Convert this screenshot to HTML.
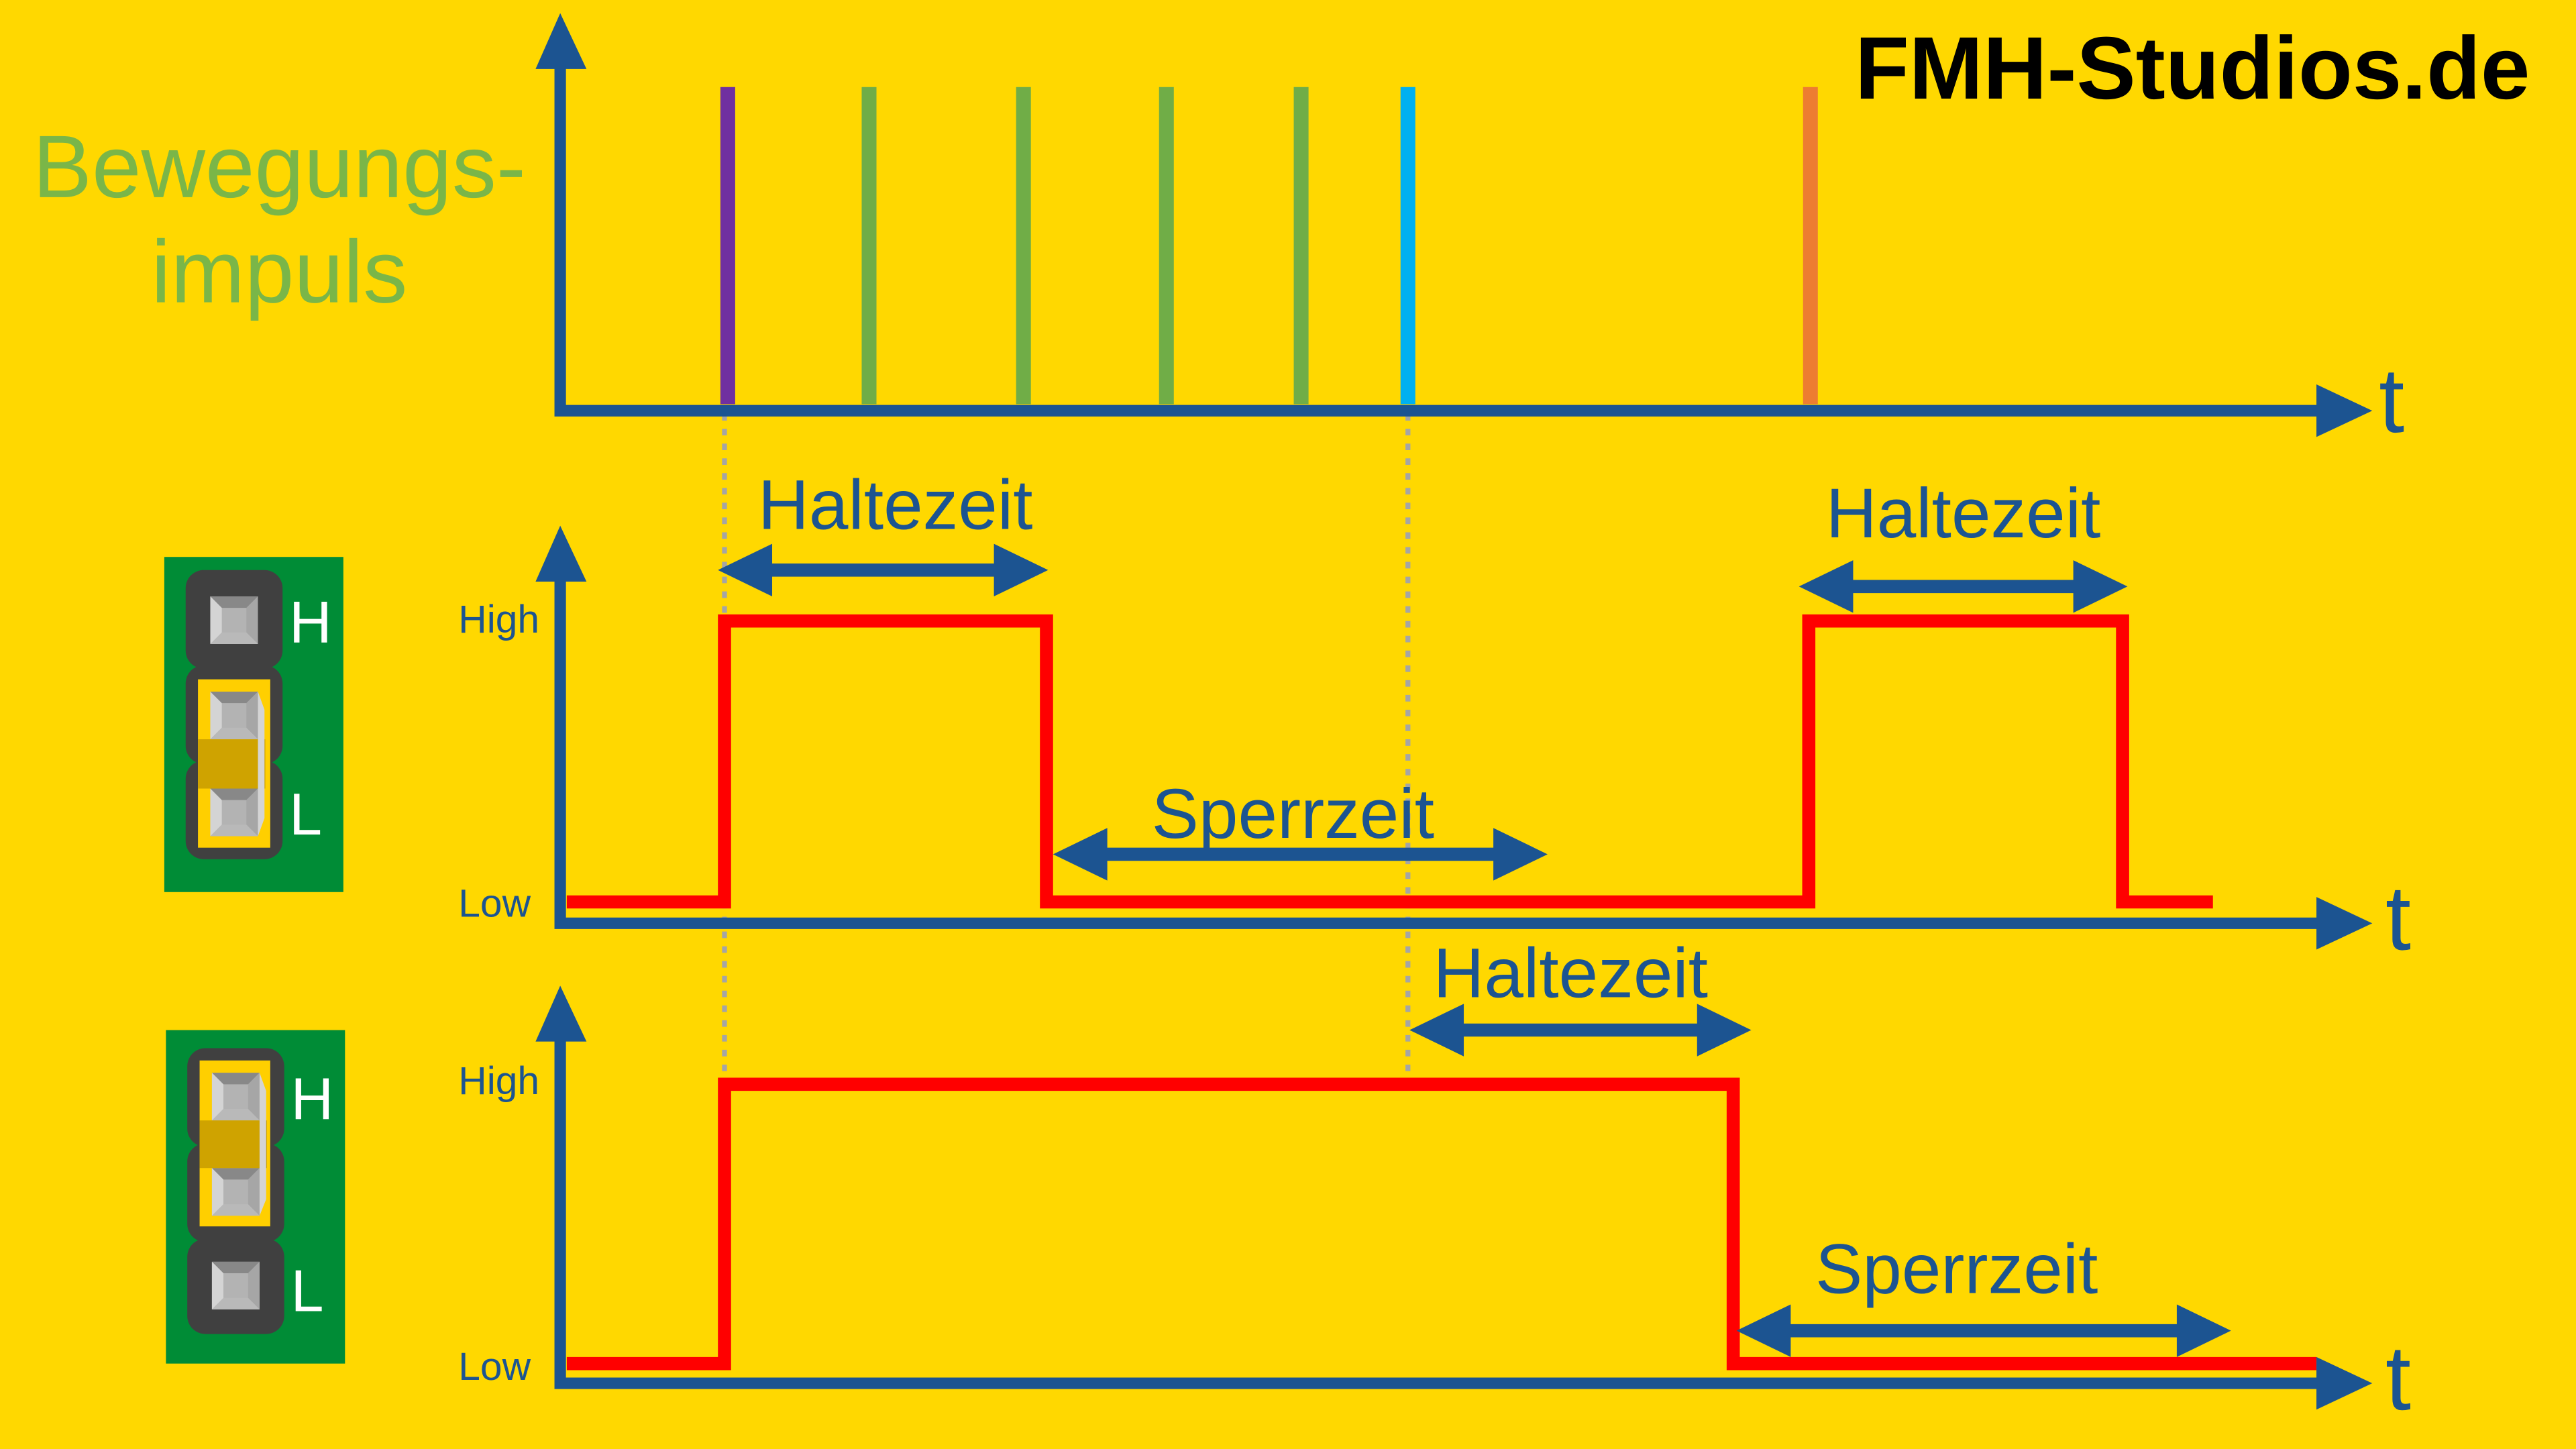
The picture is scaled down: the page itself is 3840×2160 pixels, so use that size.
<!DOCTYPE html>
<html><head><meta charset="utf-8"><style>html,body{margin:0;padding:0;background:#ffd800;}svg{display:block}</style></head>
<body>
<svg width="3840" height="2160" viewBox="0 0 1568 882" xmlns="http://www.w3.org/2000/svg" font-family="Liberation Sans, sans-serif">
<defs>
<g id="pin"><rect x="0" y="0" width="29" height="29" fill="#b3b3b3"/><path d="M0,0 H29 L22,7 H7 z" fill="#888"/><path d="M0,0 L7,7 V22 L0,29 z" fill="#d4d4d4"/><path d="M29,0 V29 L22,22 V7 z" fill="#a6a6a6"/><path d="M0,29 L7,22 H22 L29,29 z" fill="#b9b9b9"/></g>
</defs>
<rect width="1568" height="882" fill="#ffd800"/>
<g stroke="#a5a5a5" stroke-width="3" stroke-dasharray="4,5"><line x1="441" y1="252" x2="441" y2="662"/><line x1="857" y1="252" x2="857" y2="662"/></g>
<g stroke-width="9"><line x1="443" y1="53" x2="443" y2="246" stroke="#7030a0"/><line x1="529" y1="53" x2="529" y2="246" stroke="#70ad47"/><line x1="623" y1="53" x2="623" y2="246" stroke="#70ad47"/><line x1="710" y1="53" x2="710" y2="246" stroke="#70ad47"/><line x1="792" y1="53" x2="792" y2="246" stroke="#70ad47"/><line x1="857" y1="53" x2="857" y2="246" stroke="#00b0f0"/><line x1="1102" y1="53" x2="1102" y2="246" stroke="#ed7d31"/></g>
<g fill="none" stroke="#ff0000" stroke-width="8"><polyline points="345,549 441,549 441,378 637,378 637,549 1101,549 1101,378 1292,378 1292,549 1347,549"/><polyline points="345,830 441,830 441,660 1055,660 1055,830 1410,830"/></g>
<g stroke="#1c5491" stroke-width="7" fill="none" stroke-linecap="square">
<polyline points="341,40 341,250 1412,250"/><polyline points="341,352 341,562 1412,562"/><polyline points="341,632 341,842 1412,842"/></g>
<g fill="#1c5491">
<path d="M326,42 L341,8 L357,42 z"/><path d="M326,354 L341,320 L357,354 z"/><path d="M326,634 L341,600 L357,634 z"/>
<path d="M1410,234 L1444,250 L1410,266 z"/><path d="M1410,546 L1444,562 L1410,578 z"/><path d="M1410,826 L1444,842 L1410,858 z"/>
</g>
<g fill="#1c5491">
<path d="M437,347 L470,331 L470,343 L605,343 L605,331 L638,347 L605,363 L605,351 L470,351 L470,363 z"/>
<path d="M641,520 L674,504 L674,516 L909,516 L909,504 L942,520 L909,536 L909,524 L674,524 L674,536 z"/>
<path d="M1095,357 L1128,341 L1128,353 L1262,353 L1262,341 L1295,357 L1262,373 L1262,361 L1128,361 L1128,373 z"/>
<path d="M858,627 L891,611 L891,623 L1033,623 L1033,611 L1066,627 L1033,643 L1033,631 L891,631 L891,643 z"/>
<path d="M1057,810 L1090,794 L1090,806 L1325,806 L1325,794 L1358,810 L1325,826 L1325,814 L1090,814 L1090,826 z"/>
</g>
<g fill="#1c5491" font-size="43" text-anchor="middle">
<text x="545" y="322">Haltezeit</text><text x="787" y="510">Sperrzeit</text><text x="1195" y="327">Haltezeit</text><text x="956" y="607">Haltezeit</text><text x="1191" y="787">Sperrzeit</text>
</g>
<g fill="#1c5491" font-size="56"><text x="1448" y="263">t</text><text x="1452" y="578">t</text><text x="1452" y="858">t</text></g>
<g fill="#1c5491" font-size="24"><text x="279" y="385">High</text><text x="279" y="558">Low</text><text x="279" y="666">High</text><text x="279" y="840">Low</text></g>
<g fill="#7ab648" font-size="54" text-anchor="middle"><text x="170" y="120">Bewegungs-</text><text x="170" y="184">impuls</text></g>
<text x="1540" y="60" font-size="54" font-weight="bold" text-anchor="end" fill="#000">FMH-Studios.de</text>
<rect x="100" y="339" width="109" height="204" fill="#008c36"/>
<rect x="113" y="347" width="59" height="60" rx="11" fill="#404040"/><rect x="113" y="405" width="59" height="60" rx="11" fill="#404040"/><rect x="113" y="463" width="59" height="60" rx="11" fill="#404040"/>
<rect x="120.5" y="413.5" width="44" height="102.5" fill="#ffcf00"/>
<use href="#pin" x="128" y="363"/><use href="#pin" x="128" y="421"/><use href="#pin" x="128" y="480"/>
<rect x="120.5" y="450" width="41" height="30" fill="#cfa300"/><path d="M157,421 L161,432 V498 L157,509 z" fill="#d4d4d4"/>
<g fill="#fff" font-size="36"><text x="176" y="391">H</text><text x="176" y="508">L</text></g>
<rect x="101" y="627" width="109" height="203" fill="#008c36"/>
<rect x="114" y="638" width="59" height="60" rx="11" fill="#404040"/><rect x="114" y="696" width="59" height="60" rx="11" fill="#404040"/><rect x="114" y="754" width="59" height="58" rx="11" fill="#404040"/>
<rect x="121.5" y="645.5" width="43" height="101" fill="#ffcf00"/>
<use href="#pin" x="129" y="653"/><use href="#pin" x="129" y="711"/><use href="#pin" x="129" y="768"/>
<rect x="121.5" y="682" width="41" height="29" fill="#cfa300"/><path d="M158,653 L162,664 V730 L158,740 z" fill="#d4d4d4"/>
<g fill="#fff" font-size="36"><text x="177" y="681">H</text><text x="177" y="798">L</text></g>
</svg>
</body></html>
